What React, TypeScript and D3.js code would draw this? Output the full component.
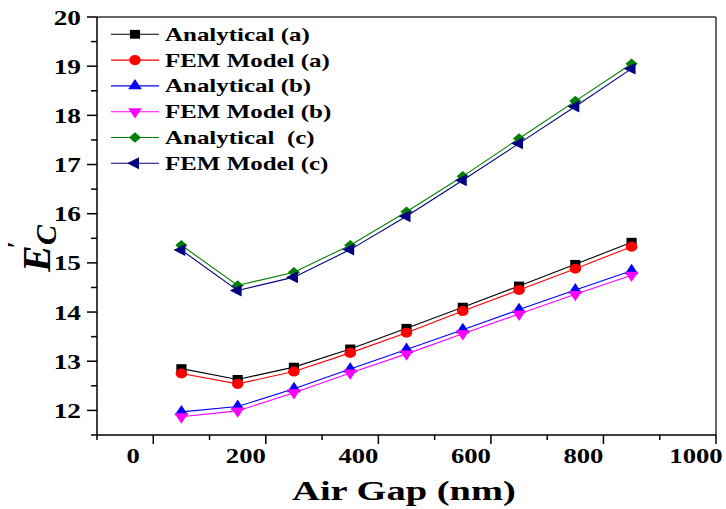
import React from "react";
import * as d3 from "d3";

// Air gap values (nm) and modulus E'_C for each model
const airGap = [50, 150, 250, 350, 450, 550, 650, 750, 850];
const analyticalA = [12.85, 12.63, 12.88, 13.25, 13.67, 14.1, 14.53, 14.97, 15.42];
const femA = [12.75, 12.54, 12.79, 13.17, 13.58, 14.02, 14.45, 14.88, 15.33];
const analyticalB = [11.97, 12.08, 12.44, 12.84, 13.24, 13.64, 14.05, 14.45, 14.84];
const femB = [11.87, 11.99, 12.36, 12.76, 13.15, 13.56, 13.96, 14.36, 14.75];
const analyticalC = [15.36, 14.54, 14.81, 15.36, 16.04, 16.76, 17.53, 18.29, 19.05];
const femC = [15.26, 14.44, 14.71, 15.27, 15.95, 16.68, 17.43, 18.18, 18.95];

const seriesNames = [
  "Analytical (a)",
  "FEM Model (a)",
  "Analytical (b)",
  "FEM Model (b)",
  "Analytical  (c)",
  "FEM Model (c)",
];
const xTicks = [0, 200, 400, 600, 800, 1000];
const yTicks = [12, 13, 14, 15, 16, 17, 18, 19, 20];

const W = 726;
const H = 509;
const M = { left: 97, right: 716, top: 17, bottom: 435 };
const FONT = '"Liberation Serif", "Times New Roman", Times, serif';
const SX = 1.3; // glyphs are drawn horizontally widened

const x = d3.scaleLinear().domain([-100, 1000]).range([M.left, M.right]);
const y = d3.scaleLinear().domain([11.5, 20]).range([M.bottom, M.top]);

type Marker = { type: d3.SymbolType; size: number; rotate: number };

const series = [
  { name: seriesNames[0], values: analyticalA, color: "#000000", marker: { type: d3.symbolSquare, size: 78, rotate: 0 } },
  { name: seriesNames[1], values: femA, color: "#ff0000", marker: { type: d3.symbolCircle, size: 80, rotate: 0 } },
  { name: seriesNames[2], values: analyticalB, color: "#0000ff", marker: { type: d3.symbolTriangle, size: 62, rotate: 0 } },
  { name: seriesNames[3], values: femB, color: "#ff00ff", marker: { type: d3.symbolTriangle, size: 62, rotate: 180 } },
  { name: seriesNames[4], values: analyticalC, color: "#008000", marker: { type: d3.symbolSquare, size: 56, rotate: 45 } },
  { name: seriesNames[5], values: femC, color: "#000080", marker: { type: d3.symbolTriangle, size: 62, rotate: -90 } },
];

function markerPath(m: Marker) {
  return d3.symbol().type(m.type).size(m.size)() as string;
}

const line = d3
  .line<[number, number]>()
  .x((d) => x(d[0]))
  .y((d) => y(d[1]));

export default function App() {
  const xMinor = d3.range(-100, 1001, 100);
  const yMinor = d3.range(11.5, 20.01, 0.5);
  const textStyle = { fontFamily: FONT, fontWeight: 700 as const };
  return (
    <svg
      width={W}
      height={H}
      style={{ position: "absolute", left: 0, top: 0, background: "#fff" }}
    >
      <rect x={0} y={0} width={W} height={H} fill="#fff" />

      {/* frame */}
      <line x1={M.left} x2={M.right} y1={M.top} y2={M.top} stroke="#333" strokeWidth={1.5} />
      <line x1={M.right} x2={M.right} y1={M.top} y2={M.bottom} stroke="#333" strokeWidth={1.5} />

      {/* x axis */}
      <line x1={M.left} x2={M.right} y1={M.bottom} y2={M.bottom} stroke="#000" strokeWidth={1.5} />
      {xMinor.map((v) => {
        const major = v % 200 === 0;
        return (
          <line key={"xt" + v} x1={x(v)} x2={x(v)} y1={M.bottom} y2={M.bottom + (major ? 9 : 5)} stroke="#000" strokeWidth={1.5} />
        );
      })}
      {xTicks.map((v) => (
        <text
          key={"xl" + v}
          transform={`translate(${x(v) - 20},463) scale(${SX},1)`}
          textAnchor="middle"
          fontSize={20.5}
          fill="#000"
          style={textStyle}
        >
          {v}
        </text>
      ))}
      <text transform={`translate(404,500) scale(1.4,1)`} textAnchor="middle" fontSize={27.5} fill="#000" style={textStyle}>
        Air Gap (nm)
      </text>

      {/* y axis */}
      <line x1={M.left} x2={M.left} y1={M.top} y2={M.bottom} stroke="#000" strokeWidth={1.5} />
      {yMinor.map((v) => {
        const major = Math.abs(v - Math.round(v)) < 1e-6;
        return (
          <line key={"yt" + v} x1={M.left - (major ? 10 : 6)} x2={M.left} y1={y(v)} y2={y(v)} stroke="#000" strokeWidth={1.5} />
        );
      })}
      {yTicks.map((v) => (
        <text
          key={"yl" + v}
          transform={`translate(81,${y(v) + 7.5}) scale(${SX},1)`}
          textAnchor="end"
          fontSize={21}
          fill="#000"
          style={textStyle}
        >
          {v}
        </text>
      ))}
      <g transform="translate(50,272) rotate(-90)">
        <text fontSize={40} fill="#000" style={{ ...textStyle, fontStyle: "italic" }}>
          <tspan>E</tspan>
          <tspan dx={-3} dy={-25} fontSize={26} style={{ fontStyle: "normal" }}>′</tspan>
          <tspan dx={-4} dy={31} fontSize={30}>C</tspan>
        </text>
      </g>

      {/* series */}
      {series.map((s) => {
        const pts = airGap.map((g, i) => [g, s.values[i]] as [number, number]);
        const p = markerPath(s.marker);
        return (
          <g key={s.name}>
            <path d={line(pts) as string} fill="none" stroke={s.color} strokeWidth={1.1} />
            {pts.map((d, i) => (
              <path
                key={i}
                d={p}
                transform={`translate(${x(d[0])},${y(d[1])}) scale(1.15,1) rotate(${s.marker.rotate})`}
                fill={s.color}
              />
            ))}
          </g>
        );
      })}

      {/* legend */}
      {series.map((s, i) => {
        const cy = 34.3 + i * 25.8;
        return (
          <g key={"lg" + i}>
            <line x1={111} x2={159} y1={cy} y2={cy} stroke={s.color} strokeWidth={1.1} />
            <path
              d={markerPath(s.marker)}
              transform={`translate(135,${cy}) scale(1.15,1) rotate(${s.marker.rotate})`}
              fill={s.color}
            />
            <text
              transform={`translate(165,${cy + 6.5}) scale(1.28,1)`}
              fontSize={19.5}
              fill="#000"
              style={{ ...textStyle, whiteSpace: "pre" }}
            >
              {s.name}
            </text>
          </g>
        );
      })}
    </svg>
  );
}
